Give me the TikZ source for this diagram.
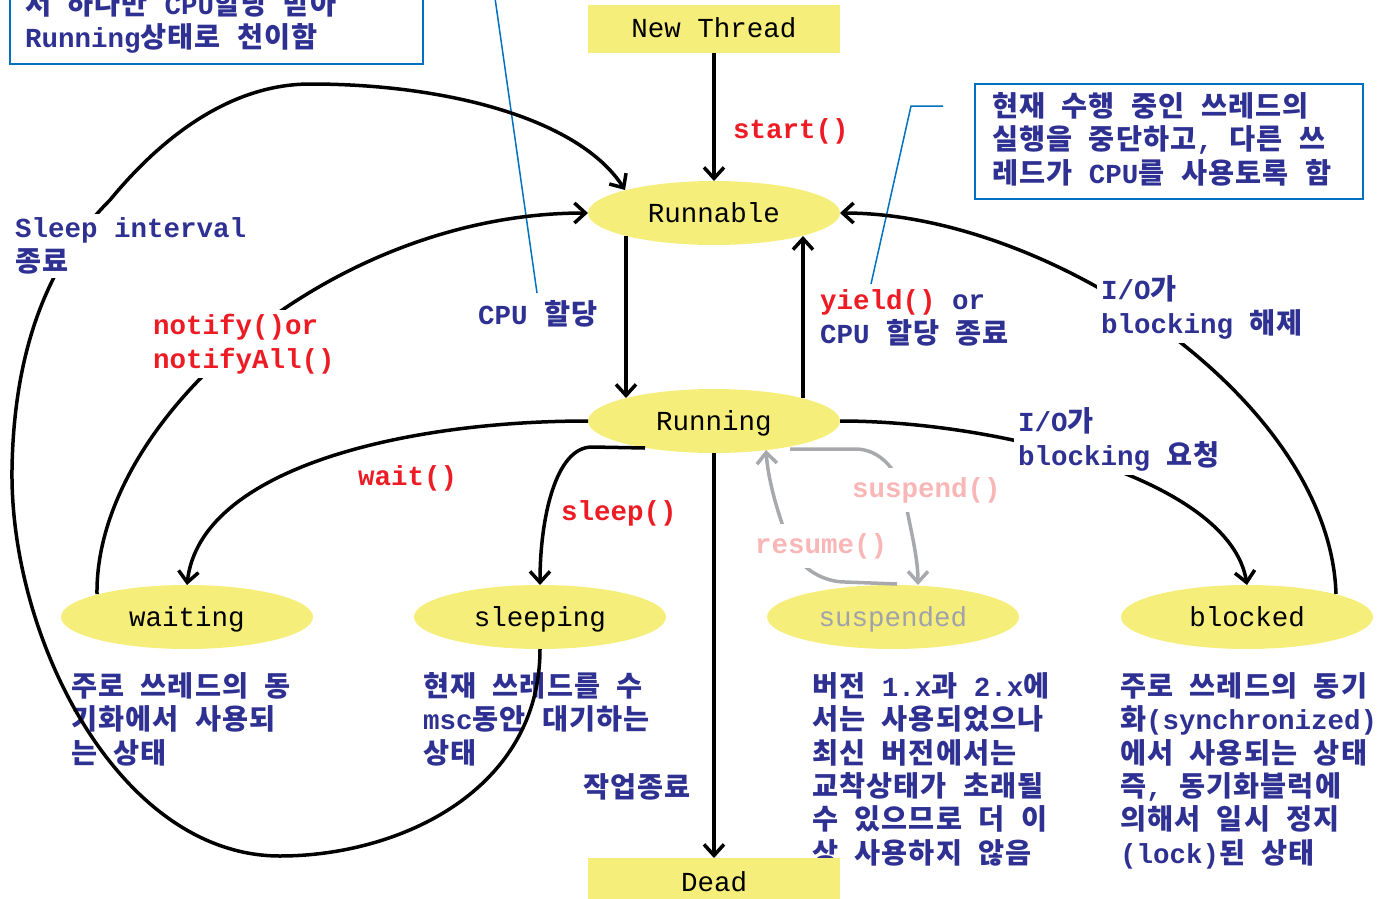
\documentclass[tikz,border=0pt]{standalone}
\usepackage{fontspec}
\usetikzlibrary{arrows.meta,calc,shapes.geometric}
\newfontfamily\monofam{Liberation Mono}
\newfontfamily\krfam{Noto Sans CJK KR}[Scale=1.03,WordSpace=2.5,LetterSpace=4]
\newcommand\latsw{\monofam\bfseries}
\newcommand\krsw{\krfam\bfseries}
\newcommand\bigfont{\fontsize{27.5}{33.3}\selectfont}
\XeTeXinterchartokenstate=1
\newXeTeXintercharclass\krclass
\count255="AC00
\loop
  \XeTeXcharclass\count255=\krclass
  \ifnum\count255<"D7A3
  \advance\count255 by 1
\repeat
\XeTeXinterchartoks 0 \krclass = {\krsw}
\XeTeXinterchartoks 4095 \krclass = {\krsw}
\XeTeXinterchartoks \krclass 0 = {\latsw}
\XeTeXinterchartoks \krclass 4095 = {\latsw}
\definecolor{stateyellow}{RGB}{246,238,122}
\definecolor{navy}{RGB}{46,49,146}
\definecolor{lblred}{RGB}{237,28,36}
\definecolor{lblpink}{RGB}{249,182,182}
\definecolor{grayarrow}{RGB}{167,169,172}
\definecolor{graytext}{RGB}{160,162,170}
\definecolor{boxblue}{RGB}{0,112,192}
\begin{document}
\begin{tikzpicture}[x=1pt,y=-1pt,
  every node/.style={inner sep=0pt,outer sep=0pt},
  state/.style={ellipse,fill=stateyellow,minimum width=252pt,minimum height=64pt,
    font=\bigfont\monofam\mdseries,text height=22pt,text depth=4pt},
  statebox/.style={rectangle,fill=stateyellow,minimum width=252pt,minimum height=48pt,
    font=\bigfont\monofam\mdseries,text height=22pt,text depth=4pt},
  lbl/.style={font=\bigfont\latsw,text=navy,align=left,anchor=base west},
  redlbl/.style={lbl,text=lblred},
  pinklbl/.style={lbl,text=lblpink},
  cut/.style={fill=white,inner sep=4pt},
  arr/.style={line width=3.5pt,-{Straight Barb[length=11pt,width=20pt]}},
  grayarr/.style={line width=3.5pt,draw=grayarrow,-{Straight Barb[length=11pt,width=20pt]}},
  callout/.style={draw=boxblue,line width=1.5pt},
  boxline/.style={draw=boxblue,line width=2pt}
]
\useasboundingbox (0,0) rectangle (1389,899);

% explanation boxes (anchor = baseline of the last line)
\draw[boxline] (10,-40) rectangle (423,64);
\node[lbl] (tlnote) at (25,48) {서 하나만 CPU할당 받아\\Running상태로 천이함};
\draw[boxline] (975,84) rectangle (1363,199);
\node[lbl] (trnote) at (992,183) {현재 수행 중인 쓰레드의\\실행을 중단하고, 다른 쓰\\레드가 CPU를 사용토록 함};

% descriptions
\node[lbl] (dwait) at (71,763) {주로 쓰레드의 동\\기화에서 사용되\\는 상태};
\node[lbl] (dsleep) at (423,763) {현재 쓰레드를 수\\msc동안 대기하는\\상태};
\node[lbl] (dsusp) at (812,863) {버전 1.x과 2.x에\\서는 사용되었으나\\최신 버전에서는\\교착상태가 초래될\\수 있으므로 더 이\\상 사용하지 않음};
\node[lbl] (dblock) at (1120,863) {주로 쓰레드의 동기\\화(synchronized)\\에서 사용되는 상태\\즉, 동기화블럭에\\의해서 일시 정지\\(lock)된 상태};
\node[lbl] (ddead) at (583,797) {작업종료};

% states
\node[statebox] (new) at (714,29) {New Thread};
\node[state] (runnable) at (714,213) {Runnable};
\node[state] (running) at (714,421) {Running};
\node[state] (waiting) at (187,617) {waiting};
\node[state] (sleeping) at (540,617) {sleeping};
\node[state,text=graytext] (suspended) at (893,617) {suspended};
\node[state] (blocked) at (1247,617) {blocked};
\node[statebox] (dead) at (714,882) {Dead};

% callout lines
\coordinate (ca1) at (495,-2);
\coordinate (ca2) at (537,293);
\draw[callout] (ca1) -- (ca2);
\coordinate (cb1) at (943,106);
\coordinate (cb2) at (911,106);
\coordinate (cb3) at (871,284);
\draw[callout] (cb1) -- (cb2) -- (cb3);

% transitions
\draw[arr] (new.south) -- (runnable.north);
\draw[arr] ($(runnable.center)+(-88,23)$) -- ($(running.center)+(-88,-23)$);
\draw[arr] ($(running.center)+(89,-23)$) -- ($(runnable.center)+(89,23)$);
\draw[arr] (running.south) -- (dead.north);
\draw[arr] (running.west) .. controls (400,421) and (200,470) .. (waiting.north);
\draw[arr] ($(running.center)+(-69,27)$) -- (592,447) .. controls (555,447) and (540,520) .. (sleeping.north);
\draw[arr] (running.east) .. controls (1000,421) and (1230,480) .. (blocked.north);
\draw[arr] ($(blocked.center)+(89,-23)$) .. controls (1330,400) and (1050,213) .. (runnable.east);
\draw[arr] ($(waiting.center)+(-90,-23)$) .. controls (95,420) and (330,213) .. (runnable.west);
\draw[arr] (sleeping.south) .. controls (540,790) and (400,856) .. (280,856)
  .. controls (120,856) and (10,640) .. (12,470)
  .. controls (14,330) and (60,250) .. (110,200)
  .. controls (180,115) and (250,84) .. (310,84)
  .. controls (450,84) and (580,120) .. ($(runnable.center)+(-89,-23)$);
\draw[grayarr] ($(running.center)+(76,28)$) -- (855,449) .. controls (880,449) and (900,470) .. (906,505)
  .. controls (912,535) and (918,560) .. ($(suspended.center)+(25,-32)$);
\draw[grayarr] ($(suspended.center)+(4,-33)$) -- (845,582) .. controls (825,582) and (800,570) .. (790,545)
  .. controls (778,515) and (768,480) .. ($(running.center)+(52,29)$);

% transition labels
\node[redlbl] (lstart) at (733,138) {start()};
\node[lbl] (lcpu) at (478,324) {CPU 할당};
\node[lbl] (lyield) at (820,343) {\textcolor{lblred}{yield()} or\\CPU 할당 종료};
\node[lbl,cut] (lsleepint) at (11,271) {Sleep interval\\종료};
\node[redlbl,cut] (lnotify) at (149,368) {notify()or\\notifyAll()};
\node[lbl,cut] (lunblock) at (1097,333) {I/O가\\blocking 해제};
\node[lbl,cut] (lblock) at (1014,465) {I/O가\\blocking 요청};
\node[redlbl] (lwait) at (358,485) {wait()};
\node[redlbl] (lsleep) at (561,520) {sleep()};
\node[pinklbl,fill=white,inner xsep=3pt,inner ysep=9pt] (lsusp) at (849,497) {suspend()};
\node[pinklbl,fill=white,inner xsep=3pt,inner ysep=9pt] (lres) at (752,553) {resume()};
\end{tikzpicture}
\end{document}
